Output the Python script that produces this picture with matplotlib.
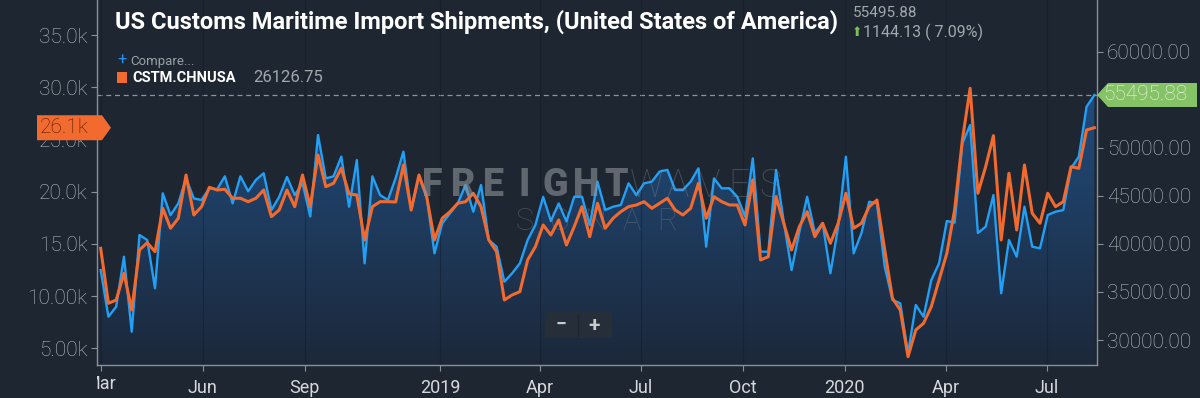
import matplotlib
matplotlib.use('Agg')
import matplotlib.pyplot as plt
import matplotlib.dates as mdates
import numpy as np
import pandas as pd
from matplotlib.patches import Polygon, Rectangle
from matplotlib.transforms import Bbox, TransformedBbox

plt.rcParams['font.family'] = ['Roboto', 'DejaVu Sans']

# weekly data, Mar 2018 .. Aug 2020
dates = pd.date_range('2018-03-01', periods=129, freq='7D')

# US Customs Maritime Import Shipments (right axis, blue, filled)
total = [37284, 32425, 33468, 38668, 30864, 40926, 40406, 35380, 45266, 42998,
         44215, 46817, 44736, 44568, 45786, 45682, 47033, 44215, 47033, 45474,
         46658, 47356, 43527, 44901, 46963, 45082, 46304, 42853, 51332, 46817,
         47033, 49087, 43869, 48731, 37982, 47033, 45082, 44568, 46857, 49598,
         43527, 47033, 44901, 39022, 42145, 43186, 44215, 46131, 43352, 46131,
         40406, 39710, 36067, 36941, 37982, 40406, 41967, 44901, 42385, 44215,
         42341, 44901, 44901, 41967, 46477, 43527, 43869, 44048, 46304, 45082,
         46304, 46477, 47530, 47703, 45614, 45614, 46477, 47866, 39710, 46817,
         45786, 45786, 44901, 42853, 48905, 39194, 39194, 47703, 42279, 37284,
         41238, 44901, 41134, 42175, 36941, 41800, 49077, 39022, 41134, 44391,
         44215, 37627, 34162, 33819, 28616, 33642, 32425, 36244, 37982, 42385,
         42212, 50469, 52373, 41134, 41800, 45082, 34860, 40406, 38668, 43869,
         39710, 39542, 43010, 43352, 43527, 47866, 49077, 54277, 55495.88]

# CSTM.CHNUSA (left axis, orange)
china = [14579, 9311, 9627, 12184, 8669, 14416, 15116, 14253, 18411, 16495,
         17453, 21600, 17769, 18564, 20422, 20163, 20231, 19369, 19369, 19043,
         19369, 20163, 17606, 18248, 20163, 18564, 21600, 18564, 23516, 20480,
         20806, 22242, 19781, 19684, 15374, 18564, 19043, 19043, 19014, 22558,
         18248, 21600, 19522, 15374, 17453, 18085, 18890, 19043, 19848, 18564,
         15374, 14253, 9627, 10106, 10422, 13458, 14732, 16811, 15853, 17290,
         14895, 16648, 18564, 15690, 18890, 16495, 17453, 18085, 18564, 18727,
         19043, 18411, 18890, 19369, 18248, 17769, 18411, 20806, 17453, 19522,
         19043, 18727, 18727, 16811, 21130, 13458, 13775, 19522, 16974, 14416,
         16648, 18085, 15690, 16974, 15058, 16974, 19848, 16495, 16974, 18564,
         19206, 14416, 9790, 8669, 4196, 6753, 7395, 8985, 11543, 14100,
         18248, 24953, 29905, 19848, 22397, 25365, 15374, 21764, 16332, 22558,
         17932, 16974, 19848, 18564, 19043, 22397, 22242, 25911, 26126.75]

tick_dates = ['2018-03-01', '2018-06-01', '2018-09-01', '2019-01-01', '2019-04-01',
              '2019-07-01', '2019-10-01', '2020-01-01', '2020-04-01', '2020-07-01']
tick_labels = ['Mar', 'Jun', 'Sep', '2019', 'Apr', 'Jul', 'Oct', '2020', 'Apr', 'Jul']

left_ticks = [5000, 10000, 15000, 20000, 25000, 30000, 35000]
left_labels = ['5.00k', '10.00k', '15.0k', '20.0k', '25.0k', '30.0k', '35.0k']
right_ticks = [30000, 35000, 40000, 45000, 50000, 60000]

bg = '#1d2631'
blue = '#22a0f5'
orange = '#f26a2d'
axis_col = '#8a9099'
label_col = '#b9bdc2'

W, H = 1200, 398
fig = plt.figure(figsize=(W / 100, H / 100), dpi=100, facecolor=bg)
ax = fig.add_axes([97 / W, 33 / H, 1000 / W, 365 / H])
ax2 = ax.twinx()
# orange on top of the blue area
ax.set_zorder(ax2.get_zorder() + 1)
ax.patch.set_visible(False)
ax2.patch.set_facecolor(bg)

x = mdates.date2num(dates)
x0 = mdates.date2num(pd.Timestamp('2018-03-01')) - 3.3
x1 = mdates.date2num(pd.Timestamp('2020-07-01')) + 45.4
ax.set_xlim(x0, x1)
ax.set_ylim(3400, 38360)
ax2.set_ylim(27400, 65380)

# gradient area under the blue line
ylo, yhi = ax2.get_ylim()
grad = np.linspace(0, 1, 256).reshape(-1, 1)
top = np.array([34, 88, 148]) / 255
bot = np.array([28, 40, 58]) / 255
cols = bot + (top - bot) * grad
img = ax2.imshow(cols[:, None, :].repeat(2, axis=1), extent=[x0, x1, ylo, yhi],
                 origin='lower', aspect='auto', zorder=1)
verts = np.vstack([[x[0], ylo], np.column_stack([x, total]), [x[-1], ylo]])
clip = Polygon(verts, closed=True, facecolor='none', edgecolor='none')
ax2.add_patch(clip)
img.set_clip_path(clip)
ax2.set_xlim(x0, x1)
ax2.set_ylim(ylo, yhi)

ax2.plot(x, total, color=blue, lw=1.7, zorder=3)
ax.plot(x, china, color=orange, lw=2.2, zorder=3)

# last-value dashed line
ax2.axhline(total[-1], color='#8d949c', lw=0.9, ls=(0, (4, 3)), zorder=2)

# faint vertical grid
for d in tick_dates:
    ax2.axvline(mdates.date2num(pd.Timestamp(d)), color='#0f1822', lw=0.8,
                alpha=0.4, zorder=2)

# axes styling
ax.set_xticks([mdates.date2num(pd.Timestamp(d)) for d in tick_dates])
ax.set_xticklabels([''] + tick_labels[1:])
ax.set_yticks(left_ticks)
ax.set_yticklabels(left_labels)
ax2.set_yticks(right_ticks)
ax2.set_yticklabels(['%.2f' % v for v in right_ticks])

for a in (ax, ax2):
    for s in a.spines.values():
        s.set_color(axis_col)
        s.set_linewidth(1)
    a.spines['top'].set_visible(False)
ax.spines['right'].set_visible(False)
ax2.spines['left'].set_visible(False)
ax2.spines['bottom'].set_visible(False)

ax.tick_params(axis='x', colors=axis_col, length=4, pad=6, labelsize=13,
               labelcolor='#d6d9dc')
ax.tick_params(axis='y', colors=axis_col, length=4, pad=3, labelsize=15,
               labelcolor=label_col)
ax2.tick_params(axis='y', colors=axis_col, length=4, pad=3, labelsize=15,
                labelcolor=label_col)
for lbl in ax.get_yticklabels() + ax2.get_yticklabels():
    lbl.set_fontweight('light')

# overlay in pixel coordinates for labels, tags and watermark
ov = fig.add_axes([0, 0, 1, 1], zorder=20)
ov.set_xlim(0, W)
ov.set_ylim(H, 0)
ov.axis('off')
ov.patch.set_visible(False)

# clipped "Mar" label at the left edge
mar_x = ax.transData.transform((mdates.date2num(pd.Timestamp('2018-03-01')), 0))[0]
t = ov.text(mar_x, 384, 'Mar', ha='center', va='center', fontsize=13, color='#d6d9dc')
t.set_clip_on(True)
t.set_clip_box(TransformedBbox(Bbox([[97 / W, 0], [1, 1]]), fig.transFigure))

# watermark
for i, ch in enumerate('FREIGHTWAVES'):
    bold = i < 7
    ov.text(417 + 30.7 * (i + 0.5), 186, ch, ha='center', va='center',
            fontsize=27, fontweight='black' if bold else 'light',
            color='#8e9399', alpha=0.6 if bold else 0.35, zorder=1)
for i, ch in enumerate('SONAR'):
    ov.text(507 + 35.6 * (i + 0.5), 222, ch, ha='center', va='center',
            fontsize=22, fontweight='light', color='#8e9399', alpha=0.35)

# zoom buttons
ov.add_patch(Rectangle((545, 312), 67, 26, facecolor='#252e39', edgecolor='none'))
ov.plot([578, 578], [314, 336], color='#1d2530', lw=1)
ov.text(561, 325, '\u2212', ha='center', va='center', fontsize=14,
        fontweight='bold', color='#c9ccd0')
ov.text(594, 325, '+', ha='center', va='center', fontsize=15,
        fontweight='bold', color='#c9ccd0')

# title and header values
ov.text(115, 22, 'US Customs Maritime Import Shipments, (United States of America)',
        ha='left', va='center', fontsize=17, fontweight='bold', color='white')
ov.text(853, 13, '55495.88', ha='left', va='center', fontsize=11, color='#a3a8ad')
ov.text(857, 33, '\u2b06', ha='center', va='center', fontsize=9, color='#7cc35a',
        family='DejaVu Sans')
ov.text(863, 32, '1144.13 ( 7.09%)', ha='left', va='center', fontsize=11.5,
        color='#a3a8ad')

# legend
ov.text(122, 60, '+', ha='center', va='center', fontsize=12, color='#2a8ef0')
ov.text(130, 61, 'Compare...', ha='left', va='center', fontsize=9.5, color='#9aa0a6')
ov.add_patch(Rectangle((117, 72), 10, 11, facecolor=orange, edgecolor='none'))
ov.text(132, 77.5, 'CSTM.CHNUSA', ha='left', va='center', fontsize=10.5,
        fontweight='bold', color='white')
ov.text(253, 77.5, '26126.75', ha='left', va='center', fontsize=12, color='#a3a8ad')

# last-value tags
yb = H - ax2.transData.transform((0, total[-1]))[1]
ov.add_patch(Polygon([(1097, yb), (1108, yb - 12), (1197, yb - 12), (1197, yb + 12),
                      (1108, yb + 12)], closed=True, facecolor='#86c266',
                     edgecolor='none'))
ov.text(1103, yb, '55495.88', ha='left', va='center', fontsize=15,
        fontweight='light', color='#eef7e8')

yo = H - ax.transData.transform((0, china[-1]))[1]
ov.add_patch(Polygon([(37, yo - 12.5), (102, yo - 12.5), (111, yo), (102, yo + 12.5),
                      (37, yo + 12.5)], closed=True, facecolor=orange,
                     edgecolor='none'))
ov.text(40, yo, '26.1k', ha='left', va='center', fontsize=15,
        fontweight='light', color='#4a1e0c')

fig.savefig('out.png', dpi=100, facecolor=bg)
